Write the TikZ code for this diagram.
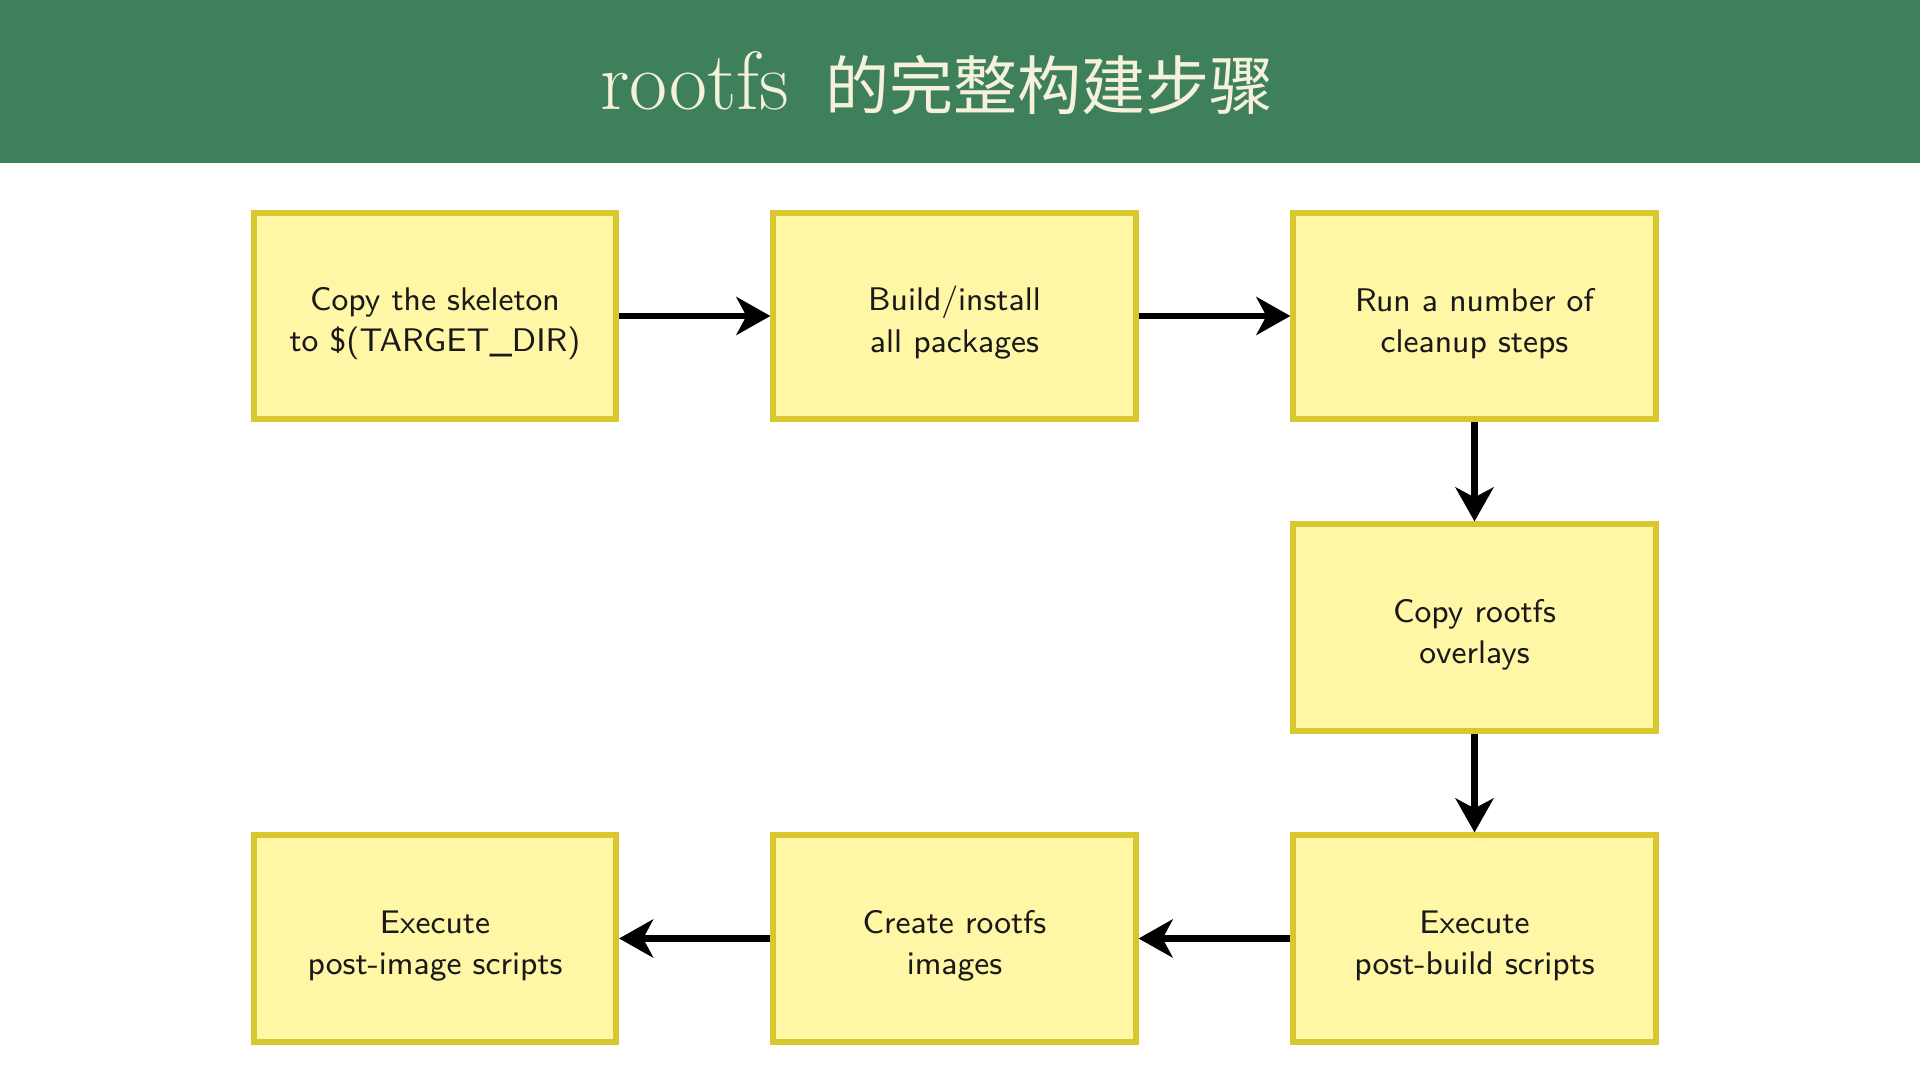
\documentclass[tikz,border=0pt]{standalone}
\usepackage{fontspec}
\newfontfamily\cjkfont{Noto Sans CJK SC}
\usetikzlibrary{arrows.meta}
\definecolor{hdrgreen}{RGB}{62,128,91}
\definecolor{titlecol}{RGB}{245,241,218}
\definecolor{boxfill}{RGB}{255,246,166}
\definecolor{boxdraw}{RGB}{216,199,46}
\newcommand\firstup{\rule{0pt}{10.7pt}}
\tikzset{
  stepbox/.style={draw=boxdraw, fill=boxfill, line width=0.06cm,
    minimum width=3.62cm, minimum height=2.06cm, align=center,
    inner sep=0pt, font=\sffamily\fontsize{9.3}{11.7}\selectfont, text=black!90},
  flow/.style={line width=0.065cm, -{Stealth[length=0.34cm, width=0.38cm, inset=0.1cm]}}
}
\begin{document}
\begin{tikzpicture}[x=0.01cm,y=-0.01cm]
\useasboundingbox (0,0) rectangle (1920,1080);
\fill[white] (0,0) rectangle (1920,1080);
\fill[hdrgreen] (0,0) rectangle (1920,163);
\node[text=titlecol, inner sep=0pt, anchor=base] (title) at (937,110)
  {\fontsize{23.5}{28}\selectfont rootfs\hspace{10.5pt}{\cjkfont\fontsize{18.2}{22}\selectfont 的完整构建步骤}};
\node[stepbox] (s1) at (435,316) {\firstup Copy the skeleton\\to \$(TARGET\_DIR)};
\node[stepbox] (s2) at (954.5,316) {\firstup Build/install\\all packages};
\node[stepbox] (s3) at (1474.5,316) {\firstup Run a number of\\cleanup steps};
\node[stepbox] (s4) at (1474.5,627.5) {\firstup Copy rootfs\\overlays};
\node[stepbox] (s5) at (1474.5,938.5) {\firstup Execute\\post-build scripts};
\node[stepbox] (s6) at (954.5,938.5) {\firstup Create rootfs\\images};
\node[stepbox] (s7) at (435,938.5) {\firstup Execute\\post-image scripts};
\draw[flow] (s1) -- (s2);
\draw[flow] (s2) -- (s3);
\draw[flow] (s3) -- (s4);
\draw[flow] (s4) -- (s5);
\draw[flow] (s5) -- (s6);
\draw[flow] (s6) -- (s7);
\end{tikzpicture}
\end{document}
